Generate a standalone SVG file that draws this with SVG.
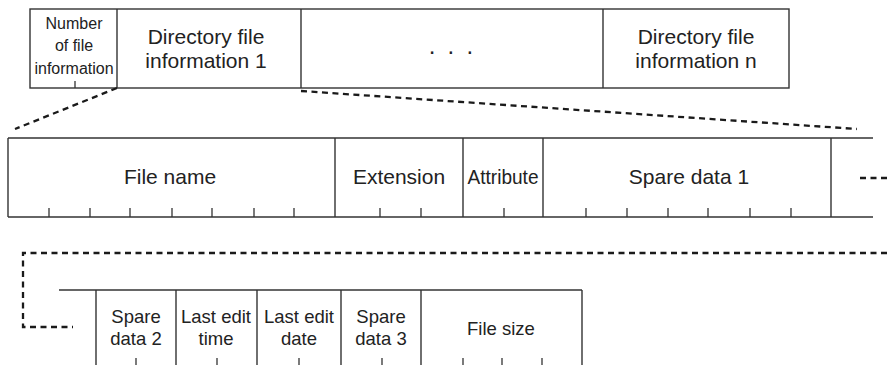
<svg xmlns="http://www.w3.org/2000/svg" width="887" height="365" viewBox="0 0 887 365">
<style>
.box{fill:#fff;stroke:#333;stroke-width:1.4}
.ln{stroke:#333;stroke-width:1.4;fill:none}
.tk{stroke:#333;stroke-width:1.3}
.dash{stroke:#1a1a1a;stroke-width:2.3;stroke-dasharray:6 4.5;fill:none}
text{font-family:"Liberation Sans",Arial,sans-serif;fill:#222;text-anchor:middle}
.t21{font-size:21px}
.t18{font-size:18.5px}
.t16{font-size:16px}
</style>
<rect width="887" height="365" fill="#fff"/>

<g id="row1">
  <rect class="box" x="30" y="9" width="759" height="79"/>
  <line class="ln" x1="117" y1="9" x2="117" y2="88"/>
  <line class="ln" x1="301" y1="9" x2="301" y2="88"/>
  <line class="ln" x1="603" y1="9" x2="603" y2="88"/>
  <line class="tk" x1="75" y1="81" x2="75" y2="88"/>
</g>
<g id="num-file-info">
  <text class="t16" x="74" y="29">Number</text>
  <text class="t16" x="74" y="51">of file</text>
  <text class="t16" x="74" y="74">information</text>
</g>
<g id="dir-info-1">
  <text class="t21" x="206" y="44">Directory file</text>
  <text class="t21" x="206" y="68">information 1</text>
</g>
<g id="ellipsis">
  <text style="font-size:24px;letter-spacing:2.8px;text-anchor:start" x="428.7" y="54">. . .</text>
</g>
<g id="dir-info-n">
  <text class="t21" x="696" y="44">Directory file</text>
  <text class="t21" x="696" y="68">information n</text>
</g>

<g id="row2">
  <line class="ln" x1="8" y1="138" x2="873" y2="138"/>
  <line class="ln" x1="8" y1="217" x2="873" y2="217"/>
  <line class="ln" x1="8" y1="138" x2="8" y2="217"/>
  <line class="ln" x1="335" y1="138" x2="335" y2="217"/>
  <line class="ln" x1="463" y1="138" x2="463" y2="217"/>
  <line class="ln" x1="543" y1="138" x2="543" y2="217"/>
  <line class="ln" x1="831" y1="138" x2="831" y2="217"/>
  <g>
    <line class="tk" x1="49" y1="208" x2="49" y2="217"/>
    <line class="tk" x1="90" y1="208" x2="90" y2="217"/>
    <line class="tk" x1="130" y1="208" x2="130" y2="217"/>
    <line class="tk" x1="172" y1="208" x2="172" y2="217"/>
    <line class="tk" x1="212" y1="208" x2="212" y2="217"/>
    <line class="tk" x1="254" y1="208" x2="254" y2="217"/>
    <line class="tk" x1="294" y1="208" x2="294" y2="217"/>
    <line class="tk" x1="380" y1="208" x2="380" y2="217"/>
    <line class="tk" x1="421" y1="208" x2="421" y2="217"/>
    <line class="tk" x1="504" y1="208" x2="504" y2="217"/>
    <line class="tk" x1="586" y1="208" x2="586" y2="217"/>
    <line class="tk" x1="627" y1="208" x2="627" y2="217"/>
    <line class="tk" x1="668" y1="208" x2="668" y2="217"/>
    <line class="tk" x1="708" y1="208" x2="708" y2="217"/>
    <line class="tk" x1="750" y1="208" x2="750" y2="217"/>
    <line class="tk" x1="791" y1="208" x2="791" y2="217"/>
  </g>
</g>
<g id="file-name"><text class="t21" x="170" y="184">File name</text></g>
<g id="extension"><text class="t21" x="399" y="184">Extension</text></g>
<g id="attribute"><text class="t21" x="503" y="184" textLength="71" lengthAdjust="spacingAndGlyphs">Attribute</text></g>
<g id="spare-data-1"><text class="t21" x="689" y="184">Spare data 1</text></g>

<g id="row3">
  <line class="ln" x1="59" y1="290" x2="582" y2="290"/>
  <line class="ln" x1="96" y1="290" x2="96" y2="365"/>
  <line class="ln" x1="176" y1="290" x2="176" y2="365"/>
  <line class="ln" x1="257" y1="290" x2="257" y2="365"/>
  <line class="ln" x1="341" y1="290" x2="341" y2="365"/>
  <line class="ln" x1="421" y1="290" x2="421" y2="365"/>
  <line class="ln" x1="582" y1="290" x2="582" y2="365"/>
  <g>
    <line class="tk" x1="136" y1="358" x2="136" y2="365"/>
    <line class="tk" x1="217" y1="358" x2="217" y2="365"/>
    <line class="tk" x1="299" y1="358" x2="299" y2="365"/>
    <line class="tk" x1="382" y1="358" x2="382" y2="365"/>
    <line class="tk" x1="463" y1="358" x2="463" y2="365"/>
    <line class="tk" x1="502" y1="358" x2="502" y2="365"/>
    <line class="tk" x1="542" y1="358" x2="542" y2="365"/>
  </g>
</g>
<g id="spare-data-2">
  <text class="t18" x="136" y="323">Spare</text>
  <text class="t18" x="136" y="345">data 2</text>
</g>
<g id="last-edit-time">
  <text class="t18" x="216" y="323">Last edit</text>
  <text class="t18" x="216" y="345">time</text>
</g>
<g id="last-edit-date">
  <text class="t18" x="299" y="323">Last edit</text>
  <text class="t18" x="299" y="345">date</text>
</g>
<g id="spare-data-3">
  <text class="t18" x="381" y="323">Spare</text>
  <text class="t18" x="381" y="345">data 3</text>
</g>
<g id="file-size"><text class="t18" x="501" y="335">File size</text></g>

<g id="connectors">
  <line class="dash" x1="117" y1="88" x2="15" y2="129"/>
  <line class="dash" x1="301" y1="91" x2="857" y2="129"/>
  <line class="dash" x1="860" y1="178" x2="887" y2="178"/>
  <polyline class="dash" points="887,253 23,253 23,327 73,327"/>
</g>
</svg>
